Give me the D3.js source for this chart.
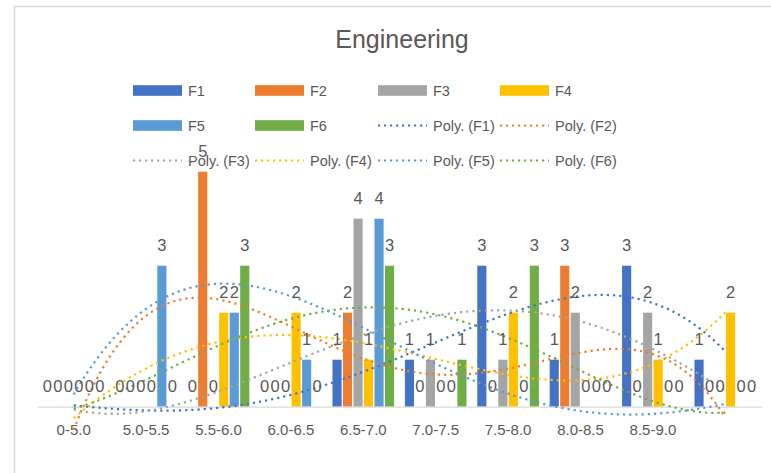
<!DOCTYPE html>
<html>
<head>
<meta charset="utf-8">
<script src="https://cdn.jsdelivr.net/npm/d3@7"></script>
<style>
  html, body { margin: 0; padding: 0; background: #ffffff; }
  svg { display: block; }
</style>
</head>
<body>
<div id="chart"></div>
<script>
// ---------- data ----------
const categories = ["0-5.0", "5.0-5.5", "5.5-6.0", "6.0-6.5", "6.5-7.0", "7.0-7.5", "7.5-8.0", "8.0-8.5", "8.5-9.0", ""];
const seriesNames = ["F1", "F2", "F3", "F4", "F5", "F6"];
const F1 = [0, 0, 0, 0, 1, 1, 3, 1, 3, 1];
const F2 = [0, 0, 5, 0, 2, 0, 0, 3, 0, 0];
const F3 = [0, 0, 0, 0, 4, 1, 1, 2, 2, 0];
const F4 = [0, 0, 2, 2, 1, 0, 2, 0, 1, 2];
const F5 = [0, 3, 2, 1, 4, 0, 0, 0, 0, 0];
const F6 = [0, 0, 3, 0, 3, 1, 3, 0, 0, 0];
const seriesValues = [F1, F2, F3, F4, F5, F6];
const colors = ["#4472C4", "#ED7D31", "#A5A5A5", "#FFC000", "#5B9BD5", "#70AD47"];
const chartTitle = "Engineering";
const trendOrder = 4;

// ---------- layout ----------
const W = 771, H = 473;
const font = "'Liberation Sans', Arial, sans-serif";
const textColor = "#595959";

const svg = d3.select("#chart").append("svg")
  .attr("width", W).attr("height", H);

svg.append("rect").attr("width", W).attr("height", H).attr("fill", "#fff");
// chart frame (only left/top visible inside the window)
svg.append("rect")
  .attr("x", 14.5).attr("y", 6.5).attr("width", W).attr("height", H + 40)
  .attr("fill", "none").attr("stroke", "#d9d9d9").attr("stroke-width", 1.5);

svg.append("text")
  .attr("x", 402).attr("y", 48)
  .attr("text-anchor", "middle")
  .attr("font-family", font).attr("font-size", 25)
  .attr("fill", textColor)
  .text(chartTitle);

const x = d3.scaleBand().domain(categories).range([37.5, 761.5]).padding(0);
const xInner = d3.scaleBand().domain(seriesNames)
  .range([(x.bandwidth() - 63) / 2, (x.bandwidth() + 63) / 2])
  .paddingInner(0.13).paddingOuter(0.065);
const y = d3.scaleLinear().domain([0, 5]).range([406.7, 171.7]);

// bars
const gBars = svg.append("g");
seriesNames.forEach((name, si) => {
  gBars.selectAll(null).data(seriesValues[si]).enter().append("rect")
    .attr("x", (d, i) => x(categories[i]) + xInner(name))
    .attr("width", xInner.bandwidth())
    .attr("y", d => y(d))
    .attr("height", d => y(0) - y(d))
    .attr("fill", colors[si]);
});

// category axis
const xAxis = d3.axisBottom(x).tickSize(0).tickPadding(17.5);
const gx = svg.append("g").attr("transform", `translate(0,${y(0)})`).call(xAxis);
gx.select(".domain").attr("stroke", "#d9d9d9").attr("stroke-width", 1.3);
gx.selectAll("text").attr("font-family", font).attr("font-size", 15).attr("fill", textColor);

// polynomial trendlines (least squares, like Excel "Poly.")
function polyFit(ys, order) {
  const n = ys.length, m = order + 1;
  const A = Array.from({length: m}, () => new Array(m + 1).fill(0));
  for (let i = 0; i < n; i++) {
    const t = i + 1;
    for (let r = 0; r < m; r++) {
      for (let c = 0; c < m; c++) A[r][c] += Math.pow(t, r + c);
      A[r][m] += ys[i] * Math.pow(t, r);
    }
  }
  for (let c = 0; c < m; c++) {
    let p = c;
    for (let r = c + 1; r < m; r++) if (Math.abs(A[r][c]) > Math.abs(A[p][c])) p = r;
    [A[c], A[p]] = [A[p], A[c]];
    for (let r = 0; r < m; r++) {
      if (r === c) continue;
      const f = A[r][c] / A[c][c];
      for (let k = c; k <= m; k++) A[r][k] -= f * A[c][k];
    }
  }
  const coef = A.map((row, i) => row[m] / row[i]);
  return t => coef.reduce((s, a, k) => s + a * Math.pow(t, k), 0);
}

const tScale = d3.scaleLinear().domain([1, categories.length])
  .range([x(categories[0]) + x.bandwidth() / 2, x(categories[categories.length - 1]) + x.bandwidth() / 2]);
const samples = d3.range(1, categories.length + 0.0001, 0.05);
const line = d3.line().x(d => tScale(d[0])).y(d => y(d[1]));
const gTrend = svg.append("g");
seriesNames.forEach((name, si) => {
  const f = polyFit(seriesValues[si], trendOrder);
  gTrend.append("path")
    .attr("d", line(samples.map(t => [t, f(t)])))
    .attr("fill", "none")
    .attr("stroke", colors[si])
    .attr("stroke-width", 2.2)
    .attr("stroke-dasharray", "2.2 4");
});

// data labels
const gLab = svg.append("g");
seriesNames.forEach((name, si) => {
  gLab.selectAll(null).data(seriesValues[si]).enter().append("text")
    .attr("x", (d, i) => x(categories[i]) + xInner(name) + xInner.bandwidth() / 2)
    .attr("y", d => y(d) - 14.5)
    .attr("text-anchor", "middle")
    .attr("font-family", font).attr("font-size", 16.5)
    .attr("fill", textColor)
    .text(d => d);
});

// legend
const legendItems = seriesNames.map((n, i) => ({label: n, color: colors[i], type: "bar"}))
  .concat(seriesNames.map((n, i) => ({label: `Poly. (${n})`, color: colors[i], type: "line"})));
const colX = [133, 255, 378, 500];
const rowY = [90.5, 125.5, 160.5];
const gLeg = svg.append("g");
legendItems.forEach((it, k) => {
  const cx = colX[k % 4], cy = rowY[Math.floor(k / 4)];
  if (it.type === "bar") {
    gLeg.append("rect").attr("x", cx).attr("y", cy - 5.3).attr("width", 49).attr("height", 10.6).attr("fill", it.color);
  } else {
    gLeg.append("line").attr("x1", cx).attr("x2", cx + 49).attr("y1", cy).attr("y2", cy)
      .attr("stroke", it.color).attr("stroke-width", 2.2).attr("stroke-dasharray", "2.2 3.8");
  }
  gLeg.append("text").attr("x", cx + 55).attr("y", cy + 5.3)
    .attr("font-family", font).attr("font-size", 14.5).attr("fill", textColor)
    .text(it.label);
});
</script>
</body>
</html>
